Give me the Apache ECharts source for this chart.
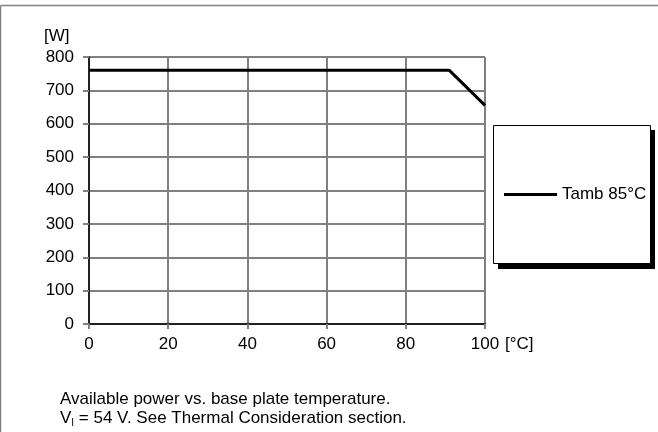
<!DOCTYPE html>
<html>
<head>
<meta charset="utf-8">
<script src="https://cdn.jsdelivr.net/npm/echarts@6/dist/echarts.min.js"></script>
<style>
  html, body { margin: 0; padding: 0; background: #fff; }
  #chart { width: 658px; height: 432px; }
</style>
</head>
<body>
<div id="chart"></div>
<script>
// data
var temps = [0, 91, 100];
var power = [760, 760, 655];
var seriesName = "Tamb 85°C";
var yTicks = { min: 0, max: 800, step: 100 };
var xTicks = { min: 0, max: 100, step: 20 };

var chart = echarts.init(document.getElementById("chart"));
var font = "Liberation Sans, Arial, sans-serif";
var grey = "#808080";

var options = {
  animation: false,
  backgroundColor: "#fff",
  textStyle: { fontFamily: font },
  grid: { left: 89, right: 173, top: 57, bottom: 108 },
  legend: {
    data: [seriesName],
    left: 504,
    top: 186,
    z: 10,
    icon: "rect",
    itemWidth: 53,
    itemHeight: 3,
    padding: 0,
    textStyle: { color: "#000", fontSize: 17, fontFamily: font },
  },
  xAxis: [
    {
      type: "value",
      min: xTicks.min,
      max: xTicks.max,
      interval: xTicks.step,
      axisLine: { lineStyle: { color: grey, width: 2 } },
      axisTick: { show: true, length: 5, lineStyle: { color: grey, width: 2 } },
      axisLabel: { color: "#000", fontSize: 17, margin: 12, fontFamily: font },
      splitLine: { lineStyle: { color: grey, width: 2 } },
    },
    {
      // black frame on top
      type: "value",
      position: "top",
      min: xTicks.min,
      max: xTicks.max,
      interval: xTicks.step,
      axisLine: { show: true, lineStyle: { color: "#000", width: 1.5 } },
      axisTick: { show: false },
      axisLabel: { show: false },
      splitLine: { show: false },
    },
  ],
  yAxis: [
    {
      type: "value",
      min: yTicks.min,
      max: yTicks.max,
      interval: yTicks.step,
      axisLine: { show: true, lineStyle: { color: grey, width: 2 } },
      axisTick: { show: true, length: 6, lineStyle: { color: grey, width: 2 } },
      axisLabel: { color: "#000", fontSize: 17, margin: 15, fontFamily: font },
      splitLine: { lineStyle: { color: grey, width: 2 } },
    },
    {
      // black frame on right
      type: "value",
      position: "right",
      min: yTicks.min,
      max: yTicks.max,
      interval: yTicks.step,
      axisLine: { show: true, lineStyle: { color: "#000", width: 1.5 } },
      axisTick: { show: false },
      axisLabel: { show: false },
      splitLine: { show: false },
    },
  ],
  graphic: [
    // outer frame (top and left only)
    { type: "line", shape: { x1: 0.5, y1: 5.5, x2: 658, y2: 5.5 }, style: { stroke: grey, lineWidth: 1.5 } },
    { type: "line", shape: { x1: 0.5, y1: 5.5, x2: 0.5, y2: 432 }, style: { stroke: grey, lineWidth: 1.5 } },
    // legend box with drop shadow
    { type: "rect", z: 1, shape: { x: 498, y: 130, width: 157, height: 139 }, style: { fill: "#000" } },
    { type: "rect", z: 2, shape: { x: 493.5, y: 125.5, width: 157, height: 138 }, style: { fill: "#fff", stroke: "#000", lineWidth: 1 } },
    { type: "text", left: 44, top: 28, style: { text: "[W]", font: "17px " + font, fill: "#000" } },
    { type: "text", left: 505, top: 336, style: { text: "[°C]", font: "17px " + font, fill: "#000" } },
    {
      type: "text",
      left: 60,
      top: 390,
      style: {
        text: "Available power vs. base plate temperature.\n{n|V}{s|I}{n| = 54 V. See Thermal Consideration section.}",
        font: "17px " + font,
        fill: "#000",
        lineHeight: 19,
        rich: {
          n: { fontSize: 17, fontFamily: font, fill: "#000", lineHeight: 19 },
          s: { fontSize: 10, fontFamily: font, fill: "#000", verticalAlign: "bottom", padding: [7, 0, 0, 0] },
        },
      },
    },
  ],
  series: [
    {
      name: seriesName,
      type: "line",
      showSymbol: false,
      symbol: "none",
      color: "#000",
      lineStyle: { color: "#000", width: 3 },
      data: temps.map(function (t, i) { return [t, power[i]]; }),
      z: 5,
    },
  ],
};
chart.setOption(options);
</script>
</body>
</html>
